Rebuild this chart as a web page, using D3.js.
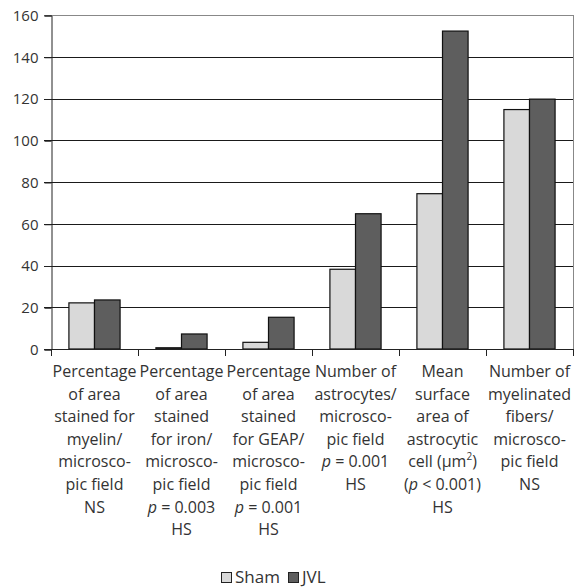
<!DOCTYPE html>
<html>
  <head>
    <meta charset="utf-8" />
    <title>Sham vs JVL</title>
    <script src="https://d3js.org/d3.v7.min.js"></script>
    <style>
      body { margin: 0; background: #fff; }
      text { font-family: "Open Sans", "Noto Sans", sans-serif; fill: #333; }
    </style>
  </head>
  <body>
    <svg id="viz"></svg>
    <script>
    var width = 576, height = 587;

    // data
    var categories = ["myelin", "iron", "gfap", "astro", "surface", "fibers"];
    var series = ["Sham", "JVL"];
    var shamValues = [22.1, 0.6, 3.2, 38.2, 74.4, 114.7];
    var jvlValues = [23.5, 7.2, 15.2, 64.8, 152.3, 119.7];
    var yTicks = [0, 20, 40, 60, 80, 100, 120, 140, 160];
    // *p* = italic p, ^2 = superscript
    var catLabels = [
      ["Percentage", "of area", "stained for", "myelin/", "microsco-", "pic field", "NS"],
      ["Percentage", "of area", "stained", "for iron/", "microsco-", "pic field", "*p* = 0.003", "HS"],
      ["Percentage", "of area", "stained", "for GEAP/", "microsco-", "pic field", "*p* = 0.001", "HS"],
      ["Number of", "astrocytes/", "microsco-", "pic field", "*p* = 0.001", "HS"],
      ["Mean", "surface", "area of", "astrocytic", "cell (μm^2)", "(*p* < 0.001)", "HS"],
      ["Number of", "myelinated", "fibers/", "microsco-", "pic field", "NS"]
    ];
    var colors = {"Sham": "#d9d9d9", "JVL": "#5e5e5e"};

    var margin = {left: 51, right: 3, top: 15, bottom: 238};

    var svg = d3.select("#viz")
      .attr("width", width)
      .attr("height", height);

    var x0 = d3.scaleBand()
      .domain(categories)
      .range([margin.left, width - margin.right]);

    var x1 = d3.scaleBand()
      .domain(series)
      .range([0, x0.bandwidth()])
      .paddingOuter(0.7);

    var y = d3.scaleLinear()
      .domain([0, 160])
      .range([height - margin.bottom, margin.top]);

    // gridlines
    svg.append("g")
      .selectAll("line")
      .data(yTicks.slice(1))
      .enter().append("line")
      .attr("x1", margin.left - 7)
      .attr("x2", width - margin.right)
      .attr("y1", function(d){ return Math.round(y(d)) + 0.5; })
      .attr("y2", function(d){ return Math.round(y(d)) + 0.5; })
      .attr("stroke", function(d){ return d == 160 ? "#888" : "#1a1a1a"; })
      .attr("stroke-width", 1);

    // right border
    svg.append("line")
      .attr("x1", width - margin.right + 0.5).attr("x2", width - margin.right + 0.5)
      .attr("y1", y(160)).attr("y2", y(0))
      .attr("stroke", "#888");

    // y axis
    var yAxis = svg.append("g")
      .attr("transform", "translate(" + (margin.left + 0.5) + ",0.5)")
      .call(d3.axisLeft(y).tickValues(yTicks).tickSize(7).tickPadding(6));
    yAxis.select(".domain").attr("stroke", "#222");
    yAxis.selectAll(".tick line").attr("stroke", "#222");
    yAxis.selectAll("text")
      .style("font-size", "15px")
      .attr("fill", "#333")
      .attr("font-family", "'Open Sans', sans-serif");

    // bars
    var groups = svg.append("g")
      .selectAll("g")
      .data(categories)
      .enter().append("g")
      .attr("transform", function(d){ return "translate(" + x0(d) + ",0)"; });

    groups.selectAll("rect")
      .data(function(d, i){
        return [{s: "Sham", v: shamValues[i]}, {s: "JVL", v: jvlValues[i]}];
      })
      .enter().append("rect")
      .attr("x", function(d){ return x1(d.s); })
      .attr("width", x1.bandwidth())
      .attr("y", function(d){ return y(d.v); })
      .attr("height", function(d){ return y(0) - y(d.v); })
      .attr("fill", function(d){ return colors[d.s]; })
      .attr("stroke", "#111")
      .attr("stroke-width", 1.2);

    // x axis line with ticks at category boundaries
    var xa = svg.append("g");
    xa.append("line")
      .attr("x1", margin.left - 7).attr("x2", width - margin.right)
      .attr("y1", y(0) + 0.5).attr("y2", y(0) + 0.5)
      .attr("stroke", "#222");
    xa.selectAll(".xt")
      .data(categories.concat(["end"]))
      .enter().append("line")
      .attr("class", "xt")
      .attr("x1", function(d){ return (d == "end" ? width - margin.right : x0(d)) + 0.5; })
      .attr("x2", function(d){ return (d == "end" ? width - margin.right : x0(d)) + 0.5; })
      .attr("y1", y(0)).attr("y2", y(0) + 7)
      .attr("stroke", "#222");

    // category labels
    var lineH = 22.6;
    function addLine(t, str) {
      var parts = str.split(/(\*p\*|\^2)/);
      parts.forEach(function(p){
        if (p == "") return;
        if (p == "*p*") t.append("tspan").attr("font-style", "italic").text("p");
        else if (p == "^2") t.append("tspan").attr("baseline-shift", "super").style("font-size", "10px").text("2");
        else t.append("tspan").text(p);
      });
    }
    categories.forEach(function(c, i){
      var cx = x0(c) + x0.bandwidth() / 2;
      catLabels[i].forEach(function(line, j){
        var t = svg.append("text")
          .attr("x", cx)
          .attr("y", 377 + j * lineH)
          .attr("text-anchor", "middle")
          .style("font-size", "16px");
        addLine(t, line);
      });
    });

    // legend
    var legend = svg.append("g").attr("transform", "translate(221,572)");
    var lx = [0, 67];
    series.forEach(function(s, i){
      legend.append("rect")
        .attr("x", lx[i] + 0.5).attr("y", 0.5)
        .attr("width", 10).attr("height", 10)
        .attr("fill", colors[s])
        .attr("stroke", "#222");
      legend.append("text")
        .attr("x", lx[i] + 14).attr("y", 10.5)
        .style("font-size", "17px")
        .text(s);
    });
    </script>
  </body>
</html>
